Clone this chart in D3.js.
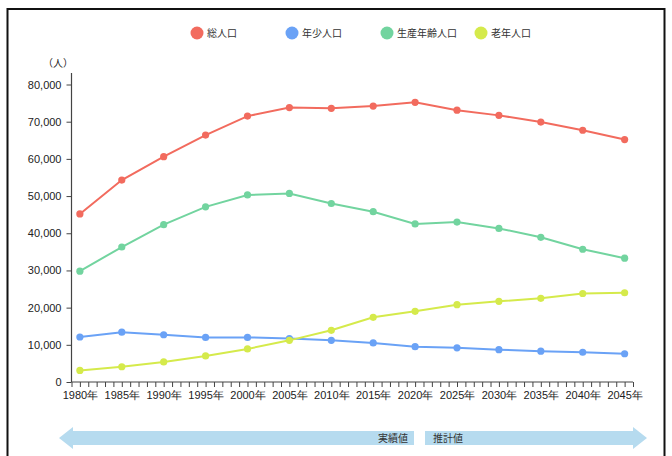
<!DOCTYPE html>
<html><head><meta charset="utf-8">
<script src="https://cdn.jsdelivr.net/npm/d3@7"></script>
<style>
html,body{margin:0;padding:0;background:#fff;}
svg{display:block;font-family:"Noto Sans CJK JP","Noto Sans",sans-serif;}
</style></head>
<body>
<svg id="chart" width="672" height="456"></svg>
<script>
const years = [1980,1985,1990,1995,2000,2005,2010,2015,2020,2025,2030,2035,2040,2045];
const seriesNames = ["総人口","年少人口","生産年齢人口","老年人口"];
const colors = ["#f26b5e","#6aa2f6","#72d49f","#d5ea4b"];
const totalPop = [45200,54300,60600,66400,71500,73800,73600,74200,75200,73100,71700,69900,67700,65200];
const youthPop = [12100,13400,12700,12000,12000,11700,11200,10500,9500,9200,8700,8300,8000,7600];
const workingPop = [29800,36300,42300,47100,50300,50700,48000,45800,42500,43000,41300,38900,35700,33300];
const elderlyPop = [3100,4100,5400,7000,8900,11200,13900,17400,19000,20800,21700,22500,23800,24000];
const yTicks = [0,10000,20000,30000,40000,50000,60000,70000,80000];
const allSeries = [totalPop, youthPop, workingPop, elderlyPop];
const bandLabels = ["実績値","推計値"];

const svg = d3.select("#chart");

// frame
svg.append("rect").attr("x",7.5).attr("y",9).attr("width",657).attr("height",460)
  .attr("fill","none").attr("stroke","#111").attr("stroke-width",2);

const x = d3.scaleLinear().domain([1979,2046]).range([71.5,633]);
const y = d3.scaleLinear().domain([0,80000]).range([382,84.5]);

// y axis
const yAxis = d3.axisLeft(y).tickValues(yTicks).tickSize(5).tickPadding(5)
  .tickFormat(d3.format(","));
const gy = svg.append("g").attr("transform","translate(71.5,0)").call(yAxis);
gy.select(".domain").attr("d","M-0,73V382").attr("stroke","#444").attr("stroke-width",1.2);
gy.selectAll(".tick line").attr("stroke","#444");
gy.selectAll("text").attr("fill","#222").style("font-size","11px").style("font-family","Liberation Sans, Arial, sans-serif");

// x axis
const xAxis = d3.axisBottom(x).tickValues(d3.range(1979,2047)).tickSize(5).tickPadding(4)
  .tickFormat(d => (d % 5 === 0) ? d + "年" : "");
const gx = svg.append("g").attr("transform","translate(0,382)").call(xAxis);
gx.select(".domain").attr("d","M71.5,0H633").attr("stroke","#444").attr("stroke-width",1.2);
gx.selectAll(".tick line").attr("stroke","#444");
gx.selectAll("text").attr("fill","#222").style("font-size","11px");

svg.append("text").attr("x",58).attr("y",67).attr("text-anchor","middle")
  .attr("fill","#222").style("font-size","10px").text("（人）");

// lines
const line = d3.line().x((d,i)=>x(years[i])).y(d=>y(d));
allSeries.forEach((s,k)=>{
  svg.append("path").datum(s).attr("d",line).attr("fill","none")
    .attr("stroke",colors[k]).attr("stroke-width",2);
  svg.append("g").selectAll("circle").data(s).join("circle")
    .attr("cx",(d,i)=>x(years[i])).attr("cy",d=>y(d)).attr("r",3.6)
    .attr("fill",colors[k]);
});

// legend
const legX = [197,292,387,481];
seriesNames.forEach((n,k)=>{
  svg.append("circle").attr("cx",legX[k]).attr("cy",33).attr("r",6.5).attr("fill",colors[k]);
  svg.append("text").attr("x",legX[k]+10).attr("y",37).attr("fill","#333")
    .style("font-size","10px").text(n);
});

// arrow band
const bandColor = "#b6dbef";
svg.append("path").attr("d","M59,438 L73,427 L73,431 L414,431 L414,445 L73,445 L73,449 Z").attr("fill",bandColor);
svg.append("path").attr("d","M425,431 L633,431 L633,427 L647,438 L633,449 L633,445 L425,445 Z").attr("fill",bandColor);
svg.append("text").attr("x",408).attr("y",442).attr("text-anchor","end").attr("fill","#333")
  .style("font-size","10px").text(bandLabels[0]);
svg.append("text").attr("x",433).attr("y",442).attr("fill","#333")
  .style("font-size","10px").text(bandLabels[1]);
</script>
</body></html>
